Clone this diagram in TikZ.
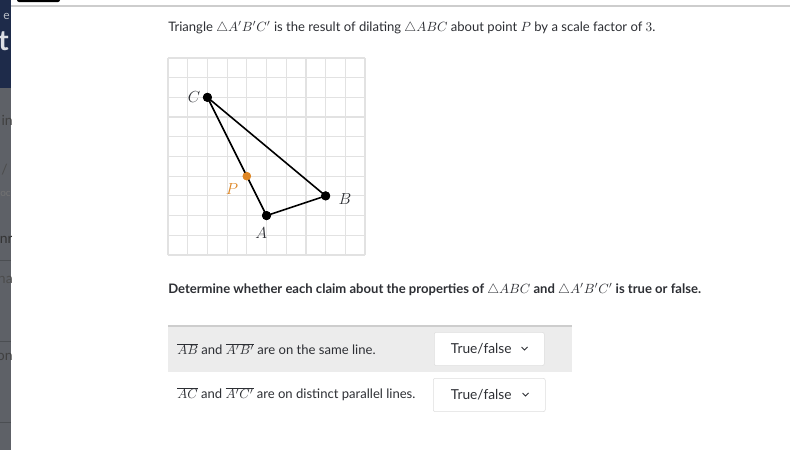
\documentclass[tikz,border=0pt]{standalone}
\usepackage{fontspec}
\setmainfont{Lato}
\usetikzlibrary{calc}
\usetikzlibrary{positioning}
\definecolor{inkgray}{RGB}{45,47,52}
\definecolor{dilorange}{RGB}{222,134,36}
\definecolor{gridgray}{RGB}{226,226,226}
\definecolor{rowgray}{RGB}{236,236,236}
\definecolor{rulegray}{RGB}{205,205,205}
\definecolor{boxgray}{RGB}{222,222,222}
\definecolor{navyside}{RGB}{30,43,74}
\definecolor{grayside}{RGB}{94,97,103}
\tikzset{every picture/.style={/utils/exec={\fontsize{9.8}{12}\selectfont}}}

\begin{document}
\begin{tikzpicture}[x=0.75pt,y=-0.75pt,
  prose/.style={anchor=west,inner sep=0pt,text=inkgray},
  ptdot/.style={circle,fill=black,inner sep=0pt,minimum size=6.8pt},
  ptlabel/.style={inner sep=0pt,text=inkgray,font=\fontsize{11.5}{13}\selectfont},
  dropbox/.style={draw=boxgray,fill=white,rounded corners=1.5pt,minimum width=82.5pt,
    minimum height=25pt,inner sep=0pt,text=inkgray,anchor=west,font=\fontsize{10.3}{12}\selectfont},
  sidetext/.style={anchor=east,inner sep=0pt,font=\fontsize{10.5}{12}\selectfont}]

  \useasboundingbox (0,0) rectangle (790,450);
  \fill[white] (0,0) rectangle (790,450);

  % side panel, cut off at the left edge
  \fill[grayside] (0,0) rectangle (11,450);
  \fill[navyside] (0,0) rectangle (11,88);
  \begin{scope}
    \clip (0,0) rectangle (11,450);
    \node[sidetext,text=white!70!navyside,font=\fontsize{9}{10}\selectfont] (se) at (10,16) {e};
    \node[sidetext,text=white!85!navyside,font=\bfseries\fontsize{21}{24}\selectfont] (st) at (9,41) {t};
    \node[sidetext,text=black!75] (sin) at (13,120) {in};
    \node[sidetext,text=black!70] (sslash) at (8,170) {/};
    \node[sidetext,text=black!55,font=\fontsize{7.5}{9}\selectfont] (soc) at (11,194) {oc};
    \node[sidetext,text=black!80] (snr) at (13,240) {nr};
    \node[sidetext,text=black!70] (sna) at (13,280) {na};
    \node[sidetext,text=black!75] (son) at (13,357) {on};
    \draw[grayside!80!black] (0,260) -- (11,260);
    \draw[grayside!80!black] (0,341) -- (11,341);
    \draw[grayside!80!black] (0,422) -- (11,422);
  \end{scope}

  % top strip
  \fill[black,rounded corners=1.5pt] (17,-3) rectangle (60,2);
  \draw[rulegray,line width=1pt] (11,6) -- (790,6);

  \node[prose] (intro) at (168,28)
    {Triangle $\triangle A'B'C'$ is the result of dilating $\triangle ABC$ about point $P$ by a scale factor of $3$.};

  % the grid and the triangle
  \begin{scope}[shift={(168,255)},x=14.78pt,y=14.78pt]
    \foreach \k in {0,...,10} {
      \draw[gridgray,line width=0.9pt] (\k,0) -- (\k,10);
      \draw[gridgray,line width=0.9pt] (0,\k) -- (10,\k);
    }
    \node[ptdot] (C) at (2,8) {};
    \node[ptdot] (B) at (8,3) {};
    \node[ptdot] (A) at (5,2) {};
    \node[ptdot,fill=dilorange,minimum size=6.3pt] (P) at (4,4) {};
    \draw[line width=1.2pt,line join=round] (C.center) -- (B.center) -- (A.center) -- (C.center);
    \node[ptdot] at (C) {};
    \node[ptdot] at (B) {};
    \node[ptdot] at (A) {};
    \node[ptdot,fill=dilorange,minimum size=6.3pt] at (P) {};
    \node[ptlabel,left=1.5pt of C] (Clab) {$C$};
    \node[ptlabel,right=6pt of B,yshift=-2pt] (Blab) {$B$};
    \node[ptlabel,below=5pt of A,xshift=-4pt] (Alab) {$A$};
    \node[ptlabel,text=dilorange,below left=3pt and 4pt of P] (Plab) {$P$};
  \end{scope}

  \node[prose,font=\bfseries] (ask) at (168,290)
    {Determine whether each claim about the properties of $\triangle ABC$ and $\triangle A'B'C'$ is true or false.};

  % claims table
  \fill[rowgray] (168,327) rectangle (572,372);
  \draw[rulegray,line width=1.5pt] (168,326) -- (572,326);

  \node[prose] (claimone) at (177,349)
    {$\overline{AB}$ and $\overline{A'B'}$ are on the same line.};
  \node[prose] (claimtwo) at (177,394)
    {$\overline{AC}$ and $\overline{A'C'}$ are on distinct parallel lines.};

  \node[dropbox] (pickone) at (434,349) {\hspace*{-12pt}True/false};
  \node[dropbox,minimum width=84pt] (picktwo) at (433,395) {\hspace*{-12pt}True/false};
  \draw[inkgray,line width=0.6pt] ($(pickone.east)+(-23,-2)$) -- ++(3,3) -- ++(3,-3);
  \draw[inkgray,line width=0.6pt] ($(picktwo.east)+(-23,-2)$) -- ++(3,3) -- ++(3,-3);
\end{tikzpicture}
\end{document}
